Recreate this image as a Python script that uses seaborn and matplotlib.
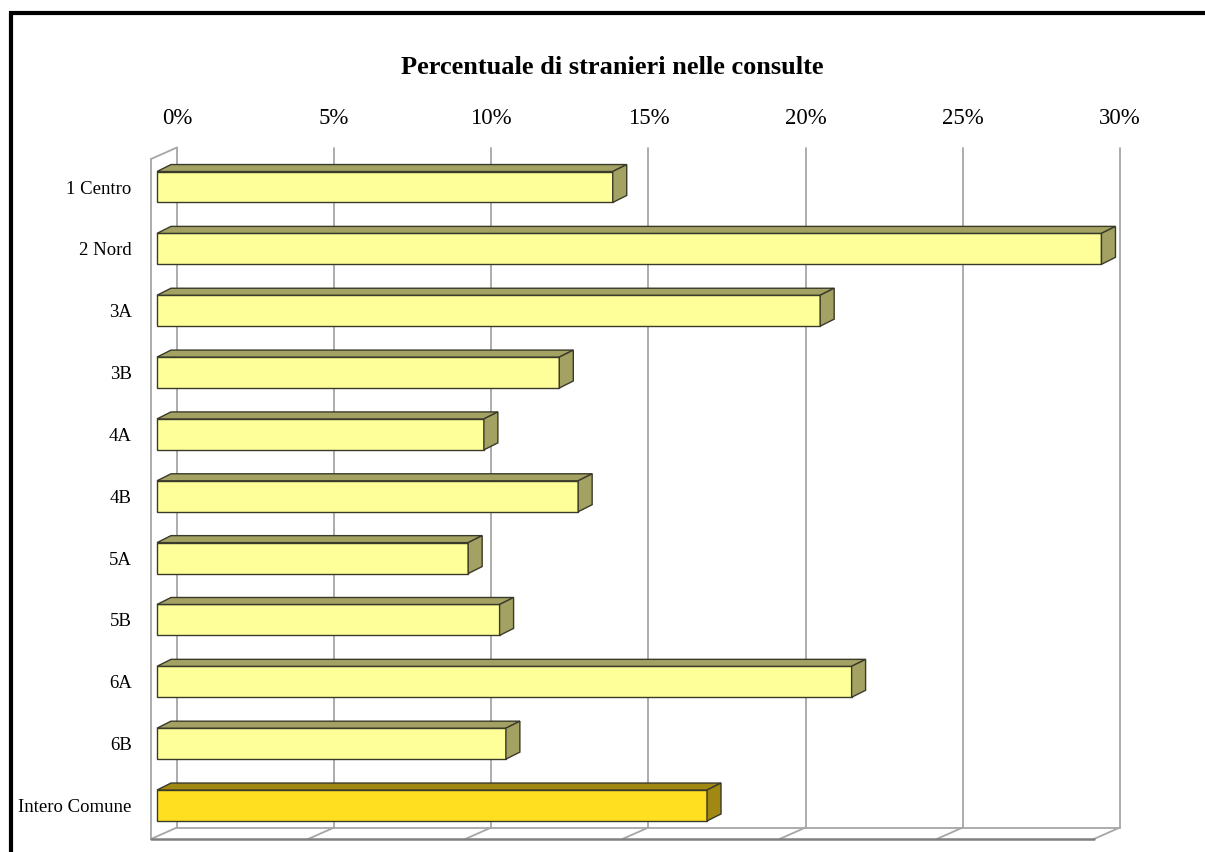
import matplotlib
matplotlib.use("Agg")
import matplotlib.pyplot as plt
import seaborn as sns
import pandas as pd
from matplotlib.patches import Polygon, Rectangle

# data
categories = ["1 Centro", "2 Nord", "3A", "3B", "4A", "4B", "5A", "5B", "6A", "6B", "Intero Comune"]
values = [14.5, 30.05, 21.1, 12.8, 10.4, 13.4, 9.9, 10.9, 22.1, 11.1, 17.5]
tick_values = [0, 5, 10, 15, 20, 25, 30]
tick_labels = ["0%", "5%", "10%", "15%", "20%", "25%", "30%"]

front_colors = ["#FFFF99"] * 10 + ["#FFDF1F"]
side_colors = ["#A3A262"] * 10 + ["#A08812"]

df = pd.DataFrame({"zona": categories, "perc": values})

sns.set_style("white")
plt.rcParams["font.family"] = ["Liberation Serif", "DejaVu Serif"]
plt.rcParams["text.color"] = "black"
plt.rcParams["xtick.color"] = "black"
plt.rcParams["ytick.color"] = "black"

W, H = 1205, 852
fig = plt.figure(figsize=(W / 100, H / 100), dpi=100)

# axes placed so that 1% = 31.43 px and rows are 61.85 px apart
px_per_pct = 31.43
px_per_row = 61.85
ax_left, ax_right, ax_top, ax_bot = 140, 1200, 130, 850
x0_px, y0_px = 157, 187
ax = fig.add_axes([ax_left / W, (H - ax_bot) / H, (ax_right - ax_left) / W, (ax_bot - ax_top) / H])

sns.barplot(data=df, x="perc", y="zona", orient="h", width=0.5,
            palette=front_colors, hue="zona", legend=False, saturation=1,
            edgecolor="#3a3a2a", linewidth=1.0, ax=ax, zorder=3)

ax.set_xlim((ax_left - x0_px) / px_per_pct, (ax_right - x0_px) / px_per_pct)
ax.set_ylim((ax_bot - y0_px) / px_per_row, (ax_top - y0_px) / px_per_row)

# depth offsets (data units)
bdx, bdy = 14 / px_per_pct, -7 / px_per_row        # bar depth
wdx, wdy = 26 / px_per_pct, -11.5 / px_per_row     # wall/floor depth
fx = -6 / px_per_pct                               # front plane of floor/wall
wall_top = (159 - y0_px) / px_per_row
floor_front = (839 - y0_px) / px_per_row
grid_col = "#a6a6a6"

# back wall gridlines + floor diagonals
for v in tick_values:
    xb = v + fx + wdx
    ax.plot([xb, xb], [wall_top + wdy, floor_front + wdy], color=grid_col, lw=1.3, zorder=1)
    ax.plot([xb - wdx, xb], [floor_front, floor_front + wdy], color=grid_col, lw=1.3, zorder=1)

# left wall
ax.plot([fx, fx], [wall_top, floor_front], color=grid_col, lw=1.3, zorder=1)
ax.plot([fx, fx + wdx], [wall_top, wall_top + wdy], color=grid_col, lw=1.3, zorder=1)
# floor
ax.plot([fx + wdx, tick_values[-1] + fx + wdx], [floor_front + wdy] * 2, color=grid_col, lw=1.3, zorder=1)
ax.plot([fx, tick_values[-1] + fx], [floor_front] * 2, color="#808080", lw=1.8, zorder=1)

# 3D faces on each bar
for p, side in zip(ax.patches, side_colors):
    x, y = p.get_x(), p.get_y()
    w, h = p.get_width(), p.get_height()
    top = Polygon([(x, y), (x + bdx, y + bdy), (x + w + bdx, y + bdy), (x + w, y)],
                  closed=True, facecolor=side, edgecolor="#3a3a2a", lw=1.0, zorder=3)
    right = Polygon([(x + w, y), (x + w + bdx, y + bdy), (x + w + bdx, y + h + bdy), (x + w, y + h)],
                    closed=True, facecolor=side, edgecolor="#3a3a2a", lw=1.0, zorder=3)
    ax.add_patch(top)
    ax.add_patch(right)

# ticks on top, labels aligned with the back wall gridlines
ax.xaxis.tick_top()
ax.set_xticks([v + fx + wdx for v in tick_values])
ax.set_xticklabels(tick_labels, fontsize=16.5)
ax.tick_params(axis="x", length=0, pad=1)
ax.tick_params(axis="y", length=0, pad=6, labelsize=13.5)
ax.set_xlabel("")
ax.set_ylabel("")
for s in ax.spines.values():
    s.set_visible(False)

fig.text(612 / W, 1 - 68 / H, "Percentuale di stranieri nelle consulte",
         ha="center", va="center", fontsize=19, fontweight="bold")

# outer chart border
fig.add_artist(Rectangle((11 / W, -0.1), 1.2, 1 - 13 / H + 0.1, transform=fig.transFigure,
                         fill=False, edgecolor="black", lw=3))

fig.savefig("out.png", dpi=100)
